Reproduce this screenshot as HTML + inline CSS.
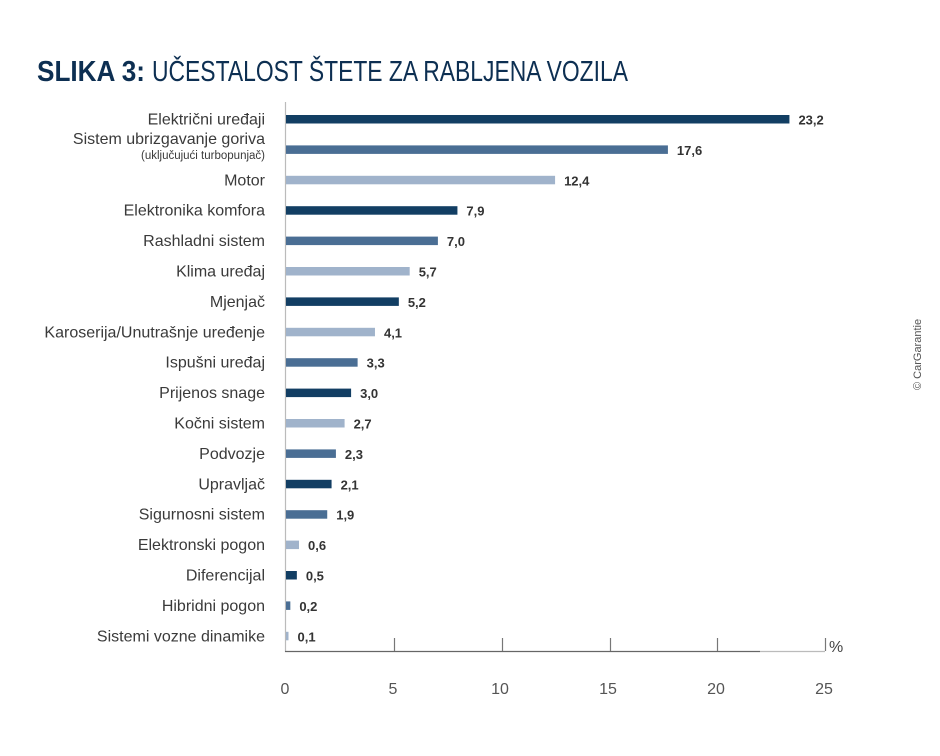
<!DOCTYPE html>
<html><head><meta charset="utf-8"><style>
body{margin:0;background:#fff;}
svg{display:block;font-family:"Liberation Sans",sans-serif;}
.l{font-size:16px;fill:#3a3a3a;text-anchor:end;}
.v{font-family:"Liberation Sans Narrow","Liberation Sans",sans-serif;font-weight:bold;font-size:13px;fill:#333;}
.t{font-size:16px;fill:#555;text-anchor:middle;}
</style></head><body>
<svg width="940" height="756" viewBox="0 0 940 756">
<text x="37" y="81" font-size="29" fill="#0d2f52" font-weight="bold" textLength="108" lengthAdjust="spacingAndGlyphs">SLIKA 3:</text>
<text x="152" y="81" font-size="29" fill="#0d2f52" textLength="476" lengthAdjust="spacingAndGlyphs">UČESTALOST ŠTETE ZA RABLJENA VOZILA</text>
<line x1="285.5" y1="102" x2="285.5" y2="652" stroke="#bbb" stroke-width="1.2"/>
<line x1="285" y1="651.5" x2="760" y2="651.5" stroke="#666" stroke-width="1.2"/>
<line x1="760" y1="651.5" x2="825" y2="651.5" stroke="#bbb" stroke-width="1.2"/>
<g stroke="#777" stroke-width="1.2">
<line x1="394.5" y1="638" x2="394.5" y2="651"/><line x1="502.5" y1="638" x2="502.5" y2="651"/>
<line x1="610.5" y1="638" x2="610.5" y2="651"/><line x1="717.5" y1="638" x2="717.5" y2="651"/>
<line x1="825.5" y1="638" x2="825.5" y2="651"/></g>
<text x="829" y="652" font-size="16" fill="#444">%</text>
<text class="t" x="285" y="694">0</text><text class="t" x="393" y="694">5</text><text class="t" x="500" y="694">10</text>
<text class="t" x="608" y="694">15</text><text class="t" x="716" y="694">20</text><text class="t" x="824" y="694">25</text>
<text x="921" y="390" font-size="11" fill="#555" transform="rotate(-90 921 390)">© CarGarantie</text>
<g id="rows"></g>
</svg>
<script>
var d=[["Električni uređaji",23.2,0],["Sistem ubrizgavanje goriva",17.6,1],["Motor",12.4,2],["Elektronika komfora",7.9,0],["Rashladni sistem",7.0,1],["Klima uređaj",5.7,2],["Mjenjač",5.2,0],["Karoserija/Unutrašnje uređenje",4.1,2],["Ispušni uređaj",3.3,1],["Prijenos snage",3.0,0],["Kočni sistem",2.7,2],["Podvozje",2.3,1],["Upravljač",2.1,0],["Sigurnosni sistem",1.9,1],["Elektronski pogon",0.6,2],["Diferencijal",0.5,0],["Hibridni pogon",0.2,1],["Sistemi vozne dinamike",0.1,2]];
var c=["#123e63","#4a6e94","#a0b3cb"],g=document.getElementById("rows"),h="";
d.forEach(function(r,i){var y=119.5+i*30.4,w=r[1]*21.7;
var ly=i==1?y-6:y+5;
h+='<text class="l" x="265" y="'+ly+'">'+r[0]+'</text>';
if(i==1)h+='<text x="265" y="'+(y+9)+'" font-size="11.5" fill="#3a3a3a" text-anchor="end">(uključujući turbopunjač)</text>';
h+='<rect x="286" y="'+(y-4.5)+'" width="'+Math.max(w,2.5)+'" height="8.5" fill="'+c[r[2]]+'"/>';
h+='<text class="v" x="'+(286+Math.max(w,2.5)+9)+'" y="'+(y+5)+'">'+r[1].toFixed(1).replace(".",",")+'</text>';});
g.innerHTML=h;
</script>
</body></html>
